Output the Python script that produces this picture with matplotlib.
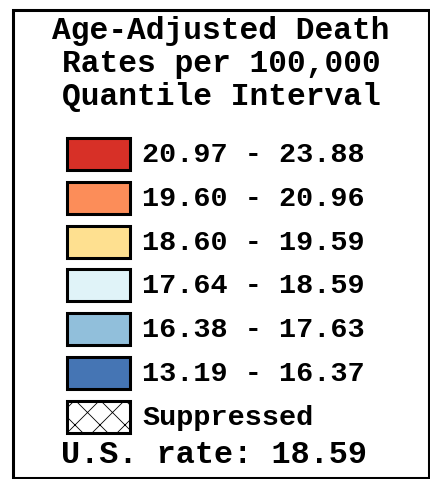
import matplotlib
matplotlib.use("Agg")
import matplotlib.pyplot as plt
from matplotlib.patches import Rectangle

# legend content
title = "Age-Adjusted Death\nRates per 100,000\nQuantile Interval"
labels = ["20.97 - 23.88", "19.60 - 20.96", "18.60 - 19.59",
          "17.64 - 18.59", "16.38 - 17.63", "13.19 - 16.37"]
colors = ["#d73027", "#fc8d59", "#fee090", "#e0f3f8", "#91bfdb", "#4575b4"]
suppressed_label = "Suppressed"
us_rate = "U.S. rate: 18.59"

# dpi 75 so that the hatch spacing comes out close to the original
DPI = 75
k = 100 / DPI  # scale for point sizes
plt.rcParams['hatch.linewidth'] = 0.6 * k
font = "Liberation Mono"

fig = plt.figure(figsize=(430 / DPI, 479 / DPI), dpi=DPI)
ax = fig.add_axes([0, 0, 1, 1])
ax.set_xlim(0, 430)
ax.set_ylim(479, 0)
ax.axis("off")

# outer frame
ax.add_patch(Rectangle((12.5, 9.5), 416, 468, fill=False, ec="black", lw=2.2 * k))

ax.text(221, 64, title, ha="center", va="center", fontsize=22.5 * k,
        fontweight="bold", family=font, linespacing=1.13)

row0, step = 154, 43.8
for i, (lab, col) in enumerate(zip(labels, colors)):
    y = row0 + i * step
    ax.add_patch(Rectangle((67, y - 16), 63, 32, fc=col, ec="black", lw=2.2 * k))
    ax.text(142, y + 1, lab, ha="left", va="center", fontsize=20.5 * k,
            fontweight="bold", family=font)

y = row0 + len(labels) * step
ax.add_patch(Rectangle((67, y - 16), 63, 32, fc="white", ec="black", lw=2.2 * k,
                       hatch="x"))
ax.text(142, y + 1, suppressed_label, ha="left", va="center", fontsize=20.5 * k,
        fontweight="bold", family=font)

ax.text(214, 455, us_rate, ha="center", va="center", fontsize=23 * k,
        fontweight="bold", family=font)

fig.savefig("out.png", dpi=DPI)
